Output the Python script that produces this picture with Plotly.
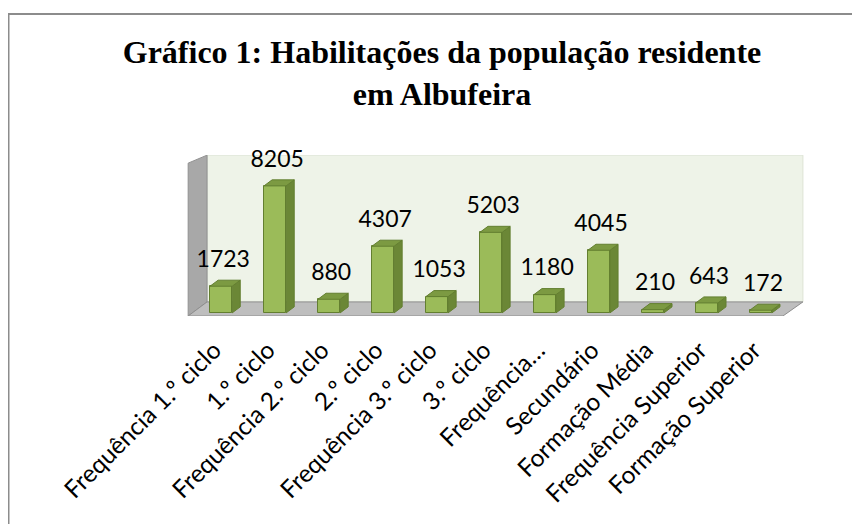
import plotly.graph_objects as go

# ---- data ----
categories = ["Frequência 1.º ciclo", "1.º ciclo", "Frequência 2.º ciclo", "2.º ciclo",
              "Frequência 3.º ciclo", "3.º ciclo", "Frequência…", "Secundário",
              "Formação Média", "Frequência Superior", "Formação Superior"]
values = [1723, 8205, 880, 4307, 1053, 5203, 1180, 4045, 210, 643, 172]
title_text = "Gráfico 1: Habilitações da população residente<br>em Albufeira"

# ---- layout geometry (page has an 8px body margin) ----
OFF = 8
W, H = 860 - OFF, 524 - OFF
ml = 186 - OFF
mt = 155 - OFF
pw, ph = 618, 161
mr = W - ml - pw
mb = H - mt - ph
xr = [-0.65, 10.8]
yr = [-200, 10200]

bw = 0.41      # bar width (x units)
ddx = 0.15     # depth shift x
ddy = 390      # depth shift y

FRONT = "#9BBB59"
TOP = "#7C9A42"
SIDE = "#6B8736"
EDGE = "#637F30"

xs = list(range(len(values)))

fig = go.Figure()

# front faces
fig.add_trace(go.Bar(x=xs, y=values, width=bw, marker=dict(color=FRONT, line=dict(color=EDGE, width=1)),
                     hoverinfo="skip", showlegend=False))

# top and side faces built from the data
tx, ty, sx, sy = [], [], [], []
for x, v in zip(xs, values):
    l, r = x - bw / 2, x + bw / 2
    tx += [l, r, r + ddx, l + ddx, l, None]
    ty += [v, v, v + ddy, v + ddy, v, None]
    sx += [r, r + ddx, r + ddx, r, r, None]
    sy += [0, ddy, v + ddy, v, 0, None]
fig.add_trace(go.Scatter(x=sx, y=sy, mode="lines", fill="toself", fillcolor=SIDE,
                         line=dict(color=EDGE, width=1), hoverinfo="skip", showlegend=False))
fig.add_trace(go.Scatter(x=tx, y=ty, mode="lines", fill="toself", fillcolor=TOP,
                         line=dict(color=EDGE, width=1), hoverinfo="skip", showlegend=False))

# data labels
fig.add_trace(go.Scatter(x=[x + 0.04 for x in xs], y=[v + 1620 for v in values], mode="text",
                         text=[str(v) for v in values], textposition="middle center",
                         textfont=dict(family="Lato", size=23, color="#000000"),
                         cliponaxis=False, hoverinfo="skip", showlegend=False))

# walls and floor (decoration)
shapes = []
shapes.append(dict(type="path", xref="x", yref="y", layer="below",
                   path="M -0.26 710 L 10.78 710 L 10.78 10190 L -0.26 10190 Z",
                   fillcolor="#EEF3E8", line=dict(color="#DDE3D5", width=1)))
shapes.append(dict(type="path", xref="x", yref="y", layer="below",
                   path="M -0.61 -200 L -0.61 9675 L -0.26 10190 L -0.26 710 Z",
                   fillcolor="#A8A8A8", line=dict(color="#909090", width=1)))
shapes.append(dict(type="path", xref="x", yref="y", layer="below",
                   path="M -0.61 -200 L 10.41 -200 L 10.78 710 L -0.26 710 Z",
                   fillcolor="#BEBEBE", line=dict(color="#8E8E8E", width=1)))

# outer frame (page pixel coords -> paper coords)
def px(xp):
    return (xp - OFF - ml) / pw
def py(yp):
    return 1 - (yp - OFF - mt) / ph
shapes.append(dict(type="rect", xref="paper", yref="paper",
                   x0=px(8.5), x1=px(880), y0=py(540), y1=py(14),
                   line=dict(color="#8C8C8C", width=2), fillcolor="rgba(0,0,0,0)", layer="above"))

fig.update_layout(
    width=W, height=H,
    margin=dict(l=ml, r=mr, t=mt, b=mb),
    paper_bgcolor="white", plot_bgcolor="rgba(0,0,0,0)",
    title=dict(text=title_text, x=(442 - OFF) / W, xanchor="center", xref="container",
               y=1 - 55 / H, yanchor="top", yref="container",
               font=dict(family="Liberation Serif", size=32, color="#000000", weight="bold")),
    xaxis=dict(range=xr, tickvals=[x - 0.13 for x in xs], ticktext=categories, tickangle=-45,
               tickfont=dict(family="Lato", size=24.5, color="#000000"),
               ticklabelstandoff=14,
               showgrid=False, zeroline=False, showline=False, ticks=""),
    yaxis=dict(range=yr, visible=False, showgrid=False, zeroline=False),
    shapes=shapes,
    bargap=0,
)

fig.write_html("out.html")
